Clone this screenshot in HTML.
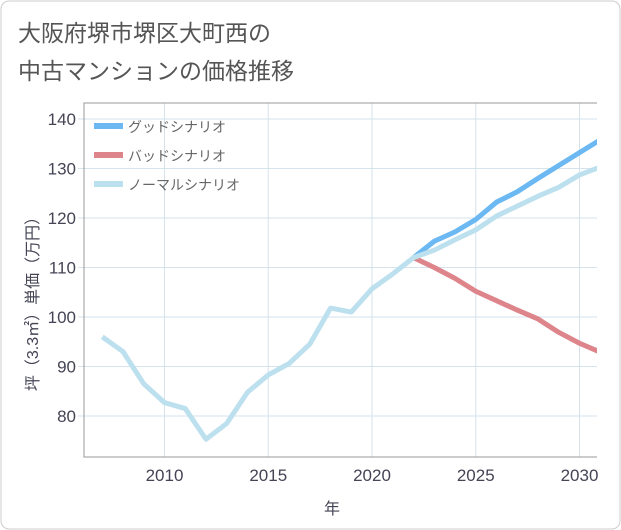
<!DOCTYPE html>
<html><head><meta charset="utf-8"><style>
body{margin:0;background:#fff;}
svg{display:block;font-family:"Liberation Sans","Noto Sans CJK JP",sans-serif;}
</style></head><body>
<svg id="c" width="621" height="530">
<defs><clipPath id="clip"><rect x="84" y="103" width="513" height="354"/></clipPath></defs>
<rect x="1" y="1" width="619" height="528" rx="8" fill="#fff" stroke="#ccc"/>
<text x="18" y="41" font-size="23" fill="#555">大阪府堺市堺区大町西の</text>
<text x="18" y="79" font-size="23" fill="#555">中古マンションの価格推移</text>
<g id="grid"></g>
<g id="lines" clip-path="url(#clip)"></g>
<text x="332" y="514" font-size="16" fill="#445" text-anchor="middle">年</text>
<text transform="translate(38,300) rotate(-90)" font-size="16" fill="#445" text-anchor="middle">坪（3.3㎡）単価（万円）</text>
<g>
<line x1="94" y1="126" x2="123" y2="126" stroke="#6bb8f2" stroke-width="6"/>
<text x="128" y="132" font-size="14" fill="#666">グッドシナリオ</text>
<line x1="94" y1="155" x2="123" y2="155" stroke="#de858c" stroke-width="6"/>
<text x="128" y="161" font-size="14" fill="#666">バッドシナリオ</text>
<line x1="94" y1="184" x2="123" y2="184" stroke="#bde0ef" stroke-width="6"/>
<text x="128" y="190" font-size="14" fill="#666">ノーマルシナリオ</text>
</g>
</svg>
<script>
const normalYears=[2007,2008,2009,2010,2011,2012,2013,2014,2015,2016,2017,2018,2019,2020,2021,2022,2023,2024,2025,2026,2027,2028,2029,2030,2031];
const normalValues=[96,93,86.5,82.7,81.5,75.3,78.5,84.8,88.3,90.6,94.5,101.8,101,105.7,108.7,112,113.5,115.6,117.6,120.4,122.4,124.4,126.2,128.7,130.3];
const scenarioYears=[2022,2023,2024,2025,2026,2027,2028,2029,2030,2031];
const goodValues=[112,115.3,117.2,119.7,123.2,125.3,128,130.6,133.2,135.8];
const badValues=[112,110,107.8,105.2,103.3,101.4,99.6,96.9,94.7,92.9];
const xTicks=[2010,2015,2020,2025,2030];
const yTicks=[80,90,100,110,120,130,140];
const L=84,R=597,T=103,B=457;
const sx=y=>164.5+(y-2010)*20.75;
const sy=v=>119+(140-v)*4.95;
const NS="http://www.w3.org/2000/svg";
function mk(t,a,p){const e=document.createElementNS(NS,t);for(const k in a)e.setAttribute(k,a[k]);p.appendChild(e);return e;}
const g=document.getElementById('grid'),lg=document.getElementById('lines');
xTicks.forEach(t=>{const l=mk('line',{x1:sx(t),x2:sx(t),y1:T,y2:B,stroke:'#d5e3ec'},g);


const tx=mk('text',{x:sx(t),y:B+24,'font-size':17,fill:'#445','text-anchor':'middle'},g);tx.textContent=t;

});
yTicks.forEach(t=>{const l=mk('line',{x1:L-6,x2:R,y1:sy(t),y2:sy(t),stroke:'#d5e3ec'},g);


const tx=mk('text',{x:L-8,y:sy(t)+6,'font-size':17,fill:'#445','text-anchor':'end'},g);tx.textContent=t;

});
const ax=mk('path',{d:`M${R},${T}H${L}V${B}H${R}`,fill:'none',stroke:'#999'},g);


function line(xs,vs,c,n){const p=mk('polyline',{points:xs.map((y,i)=>sx(y)+','+sy(vs[i])).join(' '),fill:'none',stroke:c,'stroke-width':5,'stroke-linejoin':'round'},lg);

}
line(scenarioYears,badValues,'#de858c','bad-scenario-line');
line(scenarioYears,goodValues,'#6bb8f2','good-scenario-line');
line(normalYears,normalValues,'#bde0ef','normal-scenario-line');
</script>
</body></html>
